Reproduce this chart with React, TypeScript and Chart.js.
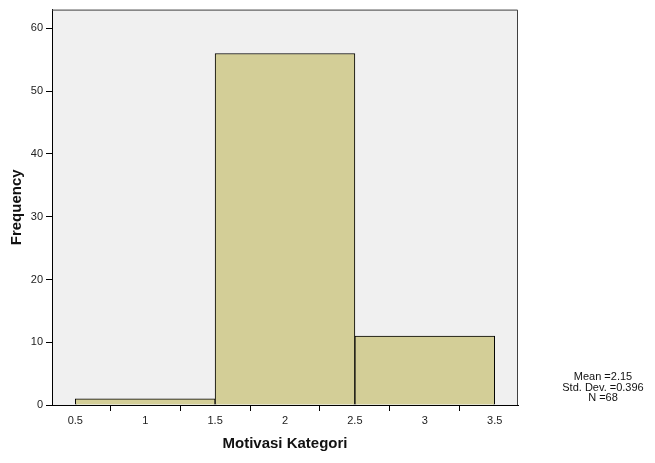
import React, { useEffect, useRef } from "react";
import { Chart, registerables } from "chart.js";

Chart.register(...registerables);

const binCenters = [1, 2, 3];
const frequencies = [1, 56, 11];
const xTicks = [0.5, 1, 1.5, 2, 2.5, 3, 3.5];
const yTicks = [0, 10, 20, 30, 40, 50, 60];
const statsLines = ["Mean =2.15", "Std. Dev. =0.396", "N =68"];
const xTitle = "Motivasi Kategori";
const yTitle = "Frequency";
const X_MIN = 1 / 3;
const X_MAX = 11 / 3;

const FONT = "'Liberation Sans', Arial, Helvetica, sans-serif";

const plotBgPlugin = {
  id: "plotBg",
  beforeDraw(chart: any) {
    const { ctx, chartArea } = chart;
    ctx.save();
    ctx.fillStyle = "#f0f0f0";
    ctx.fillRect(chartArea.left, chartArea.top, chartArea.right - chartArea.left, chartArea.bottom - chartArea.top);
    ctx.restore();
  },
  afterDraw(chart: any) {
    const { ctx, chartArea } = chart;
    ctx.save();
    ctx.strokeStyle = "#404040";
    ctx.lineWidth = 1;
    ctx.beginPath();
    ctx.moveTo(chartArea.left, chartArea.top + 0.5);
    ctx.lineTo(chartArea.right - 0.5, chartArea.top + 0.5);
    ctx.lineTo(chartArea.right - 0.5, chartArea.bottom);
    ctx.stroke();
    ctx.fillStyle = "#111";
    ctx.font = `11px ${FONT}`;
    ctx.textAlign = "center";
    ctx.textBaseline = "alphabetic";
    const cx = chartArea.right + 85;
    statsLines.forEach((line, i) => {
      ctx.fillText(line, cx, chartArea.bottom - 25 + i * 10.5);
    });
    ctx.restore();
  },
};

export default function App() {
  const ref = useRef<HTMLCanvasElement>(null);
  useEffect(() => {
    if (!ref.current) return;
    const chart = new Chart(ref.current, {
      type: "bar",
      data: {
        datasets: [
          {
            data: binCenters.map((x, i) => ({ x, y: frequencies[i] })),
            backgroundColor: "#d3ce97",
            borderColor: "#000",
            borderWidth: 1,
            barPercentage: 1,
            categoryPercentage: 1,
            xAxisID: "xBins",
            yAxisID: "y",
          },
        ],
      },
      options: {
        responsive: false,
        animation: false,
        layout: { padding: { top: 7, right: 137, left: 0, bottom: 0 } },
        plugins: { legend: { display: false }, tooltip: { enabled: false } },
        scales: {
          xBins: {
            type: "linear",
            display: false,
            min: X_MIN,
            max: X_MAX,
            offset: false,
            afterBuildTicks: (scale: any) => {
              scale.ticks = binCenters.map((v) => ({ value: v }));
            },
          },
          x: {
            type: "linear",
            position: "bottom",
            min: X_MIN,
            max: X_MAX,
            offset: false,
            afterBuildTicks: (scale: any) => {
              scale.ticks = xTicks.map((v) => ({ value: v }));
            },
            afterFit: (scale: any) => {
              scale.height = 58;
            },
            grid: { display: true, drawOnChartArea: false, drawTicks: true, tickLength: 6, color: "#000" },
            border: { display: true, color: "#000", width: 1 },
            ticks: {
              color: "#222",
              font: { family: FONT, size: 11 },
              padding: 3,
              maxRotation: 0,
              callback: (v: any) => String(v),
            },
            title: {
              display: true,
              text: xTitle,
              color: "#111",
              font: { family: FONT, size: 15, weight: "bold" },
              padding: { top: 0, bottom: 10 },
            },
          },
          y: {
            type: "linear",
            min: 0,
            max: 63,
            afterBuildTicks: (scale: any) => {
              scale.ticks = yTicks.map((v) => ({ value: v }));
            },
            afterFit: (scale: any) => {
              scale.width = 52;
            },
            grid: { display: true, drawOnChartArea: false, drawTicks: true, tickLength: 6, color: "#000" },
            border: { display: true, color: "#000", width: 1 },
            ticks: {
              color: "#222",
              font: { family: FONT, size: 11 },
              padding: 3,
            },
            title: {
              display: true,
              text: yTitle,
              color: "#111",
              font: { family: FONT, size: 15, weight: "bold" },
              padding: { top: 8, bottom: 0 },
            },
          },
        },
      },
      plugins: [plotBgPlugin],
    });
    return () => chart.destroy();
  }, []);
  return (
    <div style={{ position: "fixed", left: 0, top: 0, width: 655, height: 463, background: "#fff" }}>
      <canvas ref={ref} width={655} height={463} />
    </div>
  );
}
